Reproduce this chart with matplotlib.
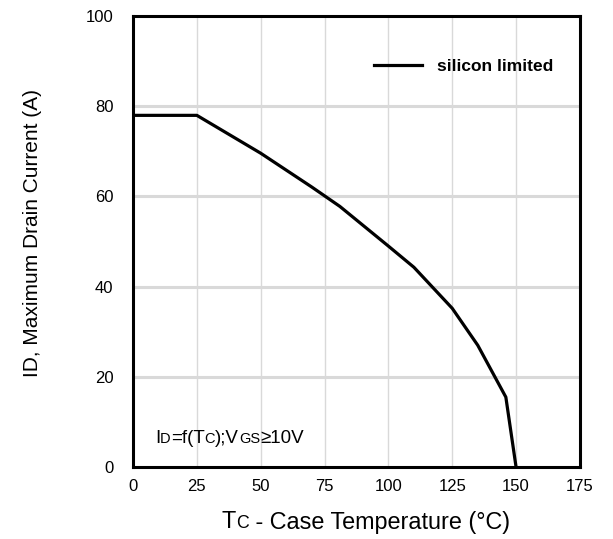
import matplotlib.pyplot as plt
from matplotlib.offsetbox import TextArea, HPacker, AnchoredOffsetbox

plt.rcParams['font.family'] = ['Liberation Sans', 'DejaVu Sans']

# curve points
tc = [0, 25, 50, 70, 81, 100, 110, 125, 135, 146, 150]
id_max = [78, 78, 69.6, 62.1, 57.8, 49, 44.3, 35.2, 27, 15.5, 0]

xticks = [0, 25, 50, 75, 100, 125, 150, 175]
yticks = [0, 20, 40, 60, 80, 100]

fig = plt.figure(figsize=(6.13, 5.39), dpi=100)
ax = fig.add_axes([0.217, 0.1336, 0.729, 0.8364])

for y in yticks[1:-1]:
    ax.axhline(y, color='#d9d9d9', lw=2.2, zorder=0)
for x in xticks[1:-1]:
    ax.axvline(x, color='#d9d9d9', lw=1.0, zorder=0)

ax.plot(tc, id_max, color='black', lw=2.3, label='silicon limited', zorder=3)

ax.set_xlim(0, 175)
ax.set_ylim(0, 100)
ax.set_xticks(xticks)
ax.set_yticks(yticks)
ax.tick_params(length=0, labelsize=12)
ax.tick_params(axis='y', pad=14)
ax.tick_params(axis='x', pad=9)
for s in ax.spines.values():
    s.set_linewidth(2.2)
    s.set_zorder(4)

ax.set_ylabel('ID, Maximum Drain Current (A)', fontsize=15)
ax.yaxis.set_label_coords(-0.204, 0.52)

leg = ax.legend(loc='upper right', bbox_to_anchor=(0.976, 0.94), frameon=False,
                handlelength=2.75, handletextpad=0.9, prop={'weight': 'bold', 'size': 12.5})


def sub_text(parts, size, small):
    boxes = []
    for txt, is_sub in parts:
        boxes.append(TextArea(txt, textprops=dict(size=small if is_sub else size, color='black')))
    return HPacker(children=boxes, align='baseline', pad=0, sep=0)


note = sub_text([('I', False), ('D', True), ('=f(T', False), ('C', True),
                 (');V', False), ('GS', True), ('≥10V', False)], 13.5, 10.5)
ab = AnchoredOffsetbox(loc='center left', child=note, frameon=False,
                       bbox_to_anchor=(0.049, 0.064), bbox_transform=ax.transAxes, pad=0, borderpad=0)
ax.add_artist(ab)

xlab = sub_text([('T', False), ('C', True), (' - Case Temperature (°C)', False)], 16.8, 12.8)
ab2 = AnchoredOffsetbox(loc='center', child=xlab, frameon=False,
                        bbox_to_anchor=(366 / 613, 1 - 522 / 539), bbox_transform=fig.transFigure,
                        pad=0, borderpad=0)
fig.add_artist(ab2)

fig.savefig('out.png', dpi=100)
